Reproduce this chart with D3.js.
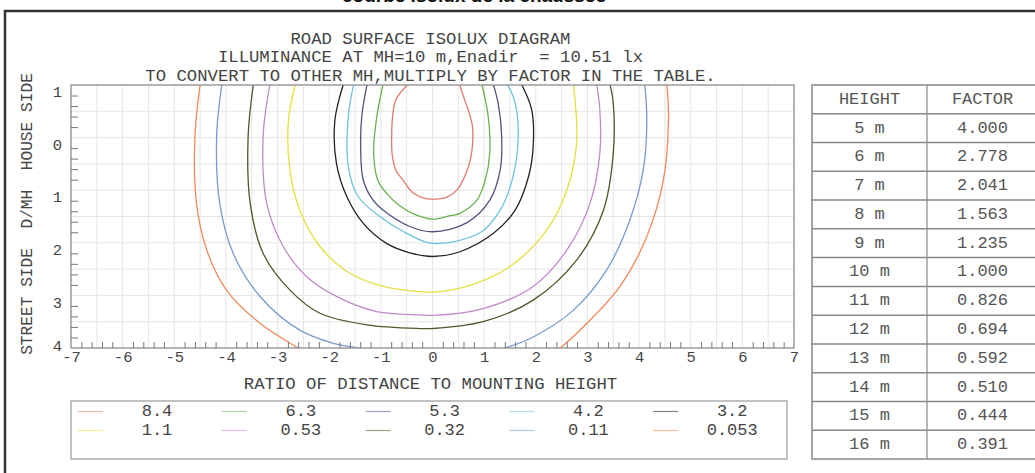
<!DOCTYPE html>
<html><head><meta charset="utf-8">
<script src="https://cdn.jsdelivr.net/npm/d3@7"></script>
<style>
html,body{margin:0;padding:0;background:#fff;}
svg{display:block;}
text{font-family:"Liberation Mono","DejaVu Sans Mono",monospace;fill:#444;white-space:pre;}
</style></head>
<body>
<svg id="chart" width="1035" height="473"></svg>
<script>
// ---------- DATA ----------
const titleLines = [
  "ROAD SURFACE ISOLUX DIAGRAM",
  "ILLUMINANCE AT MH=10 m,Enadir  = 10.51 lx",
  "TO CONVERT TO OTHER MH,MULTIPLY BY FACTOR IN THE TABLE."
];
const xTickValues = [-7,-6,-5,-4,-3,-2,-1,0,1,2,3,4,5,6,7];
const yTickValues = [-1,0,1,2,3,4];
const yTickLabels = ["1","0","1","2","3","4"];
const levels = ["8.4","6.3","5.3","4.2","3.2","1.1","0.53","0.32","0.11","0.053"];
const heights = ["5 m","6 m","7 m","8 m","9 m","10 m","11 m","12 m","13 m","14 m","15 m","16 m"];
const factors = ["4.000","2.778","2.041","1.563","1.235","1.000","0.826","0.694","0.592","0.510","0.444","0.391"];

// isolux contours, [ratio of distance, D/MH] (negative D/MH = house side)
const c8_4 = [[-0.49,-1],[-0.71,-0.72],[-0.77,-0.43],[-0.79,-0.05],[-0.78,0.33],[-0.71,0.62],[-0.57,0.81],[-0.38,1.05],[-0.20,1.14],[0,1.17],[0.28,1.13],[0.49,0.98],[0.66,0.65],[0.74,0.39],[0.78,0.05],[0.77,-0.24],[0.69,-0.53],[0.59,-0.81],[0.53,-1]];
const c6_3 = [[-0.96,-1],[-1.08,-0.39],[-1.14,0.29],[-1.06,0.81],[-0.88,1.07],[-0.63,1.30],[-0.32,1.47],[0,1.55],[0.32,1.49],[0.53,1.44],[0.86,1.19],[1.02,0.81],[1.11,0.29],[1.08,-0.39],[0.96,-1]];
const c5_3 = [[-1.27,-1],[-1.37,-0.40],[-1.39,0.25],[-1.34,0.81],[-1.15,1.19],[-0.89,1.43],[-0.44,1.69],[0,1.79],[0.66,1.62],[1.11,1.19],[1.31,0.62],[1.34,-0.02],[1.27,-0.66],[1.18,-1]];
const c4_2 = [[-1.53,-1],[-1.63,-0.40],[-1.63,0.55],[-1.44,1.12],[-1.02,1.50],[-0.50,1.82],[0,2.01],[0.92,1.81],[1.31,1.38],[1.56,0.74],[1.66,-0.02],[1.60,-0.66],[1.46,-1]];
const c3_2 = [[-1.73,-1],[-1.89,-0.33],[-1.86,0.49],[-1.66,1.12],[-1.34,1.63],[-0.89,2.01],[-0.44,2.19],[0,2.26],[0.53,2.17],[1.18,1.82],[1.60,1.38],[1.86,0.74],[1.95,0.17],[1.92,-0.53],[1.73,-1]];
const c1_1 = [[-2.66,-1],[-2.79,-0.33],[-2.76,0.62],[-2.57,1.38],[-2.18,2.07],[-1.60,2.58],[-0.95,2.83],[-0.24,2.93],[0,2.94],[0.66,2.83],[1.50,2.45],[2.21,1.76],[2.60,1.00],[2.79,0.11],[2.73,-1]];
const c0_53 = [[-3.15,-1],[-3.28,-0.02],[-3.21,1.25],[-2.89,2.07],[-2.44,2.64],[-1.86,3.02],[-1.08,3.31],[-0.24,3.37],[0,3.38],[0.98,3.25],[1.95,2.83],[2.60,2.14],[3.05,1.25],[3.24,0.30],[3.24,-0.53],[3.18,-1]];
const c0_32 = [[-3.47,-1],[-3.57,-0.02],[-3.53,1.25],[-3.28,2.20],[-2.76,2.90],[-2.18,3.34],[-1.27,3.56],[-0.24,3.63],[0,3.63],[0.98,3.50],[1.95,3.09],[2.79,2.33],[3.31,1.38],[3.50,0.30],[3.50,-0.66],[3.44,-1]];
const c0_11 = [[-4.08,-1],[-4.18,-0.02],[-4.12,1.25],[-3.86,2.20],[-3.34,3.02],[-2.57,3.66],[-1.92,3.91],[-1.44,4],[-1.0,4.08],[1.0,4.08],[1.40,4],[1.95,3.79],[2.73,3.28],[3.37,2.52],[3.82,1.57],[4.08,0.62],[4.15,-0.33],[4.11,-1]];
const c0_053 = [[-4.50,-1],[-4.60,-0.02],[-4.57,1.25],[-4.37,2.14],[-3.99,2.90],[-3.34,3.53],[-2.60,4],[-2.15,4.25],[2.05,4.25],[2.47,4],[2.99,3.53],[3.63,2.83],[4.15,1.88],[4.47,0.81],[4.57,-0.33],[4.54,-1]];
const contours = [c8_4,c6_3,c5_3,c4_2,c3_2,c1_1,c0_53,c0_32,c0_11,c0_053];
// line colours, one per level
const colors = ["#e07a6e","#6ab04c","#50547e","#6cc4dc","#222222","#e4df3c","#c08ac8","#4a5a28","#7a9ad0","#f08a5a"];

// ---------- DRAW ----------
const svg = d3.select("#chart");
const W = 1035, H = 473;
const plot = {left:71, right:794, top:85, bottom:348};
const x = d3.scaleLinear().domain([-7,7]).range([plot.left, plot.right]);
const y = d3.scaleLinear().domain([-1,4]).range([plot.top, plot.bottom]);

svg.append("rect").attr("width",W).attr("height",H).attr("fill","#fff");

// clipped top heading (only its lower edge shows in the frame)
svg.append("text").attr("x",474).attr("y",2).attr("text-anchor","middle")
  .style("font-family","'Liberation Sans',Arial,sans-serif").style("font-weight","bold")
  .style("font-size","19px").style("fill","#111").text("courbe isolux de la chaussée");

// outer frame
svg.append("rect").attr("x",5).attr("y",11).attr("width",1060).attr("height",500)
  .attr("fill","none").attr("stroke","#333").attr("stroke-width",2.5);

// title lines
svg.selectAll("text.title").data(titleLines).enter().append("text").attr("class","title")
  .attr("x",(plot.left+plot.right)/2 - 2).attr("y",(d,i)=>39 + i*18.5)
  .attr("text-anchor","middle").attr("dominant-baseline","middle")
  .style("font-size","17.3px").text(d=>d);

// grid
const gridX = d3.range(-7,7.01,0.5), gridY = d3.range(-1,4.01,0.5);
const grid = svg.append("g");
grid.selectAll("line.gx").data(gridX).enter().append("line")
  .attr("x1",d=>x(d)).attr("x2",d=>x(d)).attr("y1",plot.top).attr("y2",plot.bottom)
  .attr("stroke","#e6e6e6").attr("stroke-width",1);
grid.selectAll("line.gy").data(gridY).enter().append("line")
  .attr("y1",d=>y(d)).attr("y2",d=>y(d)).attr("x1",plot.left).attr("x2",plot.right)
  .attr("stroke","#e6e6e6").attr("stroke-width",1);

// contours
svg.append("clipPath").attr("id","pc").append("rect")
  .attr("x",plot.left).attr("y",plot.top).attr("width",plot.right-plot.left).attr("height",plot.bottom-plot.top);
const line = d3.line().x(d=>x(d[0])).y(d=>y(d[1])).curve(d3.curveCatmullRom.alpha(0.5));
svg.append("g").attr("clip-path","url(#pc)").selectAll("path").data(contours).enter().append("path")
  .attr("d",line).attr("fill","none").attr("stroke",(d,i)=>colors[i]).attr("stroke-width",1.3);

// plot frame
svg.append("rect").attr("x",plot.left).attr("y",plot.top)
  .attr("width",plot.right-plot.left).attr("height",plot.bottom-plot.top)
  .attr("fill","none").attr("stroke","#8a8a8a").attr("stroke-width",1.2);

// minor ticks
const minorX = d3.range(-7,7.001,0.2).filter(v=>Math.abs(v-Math.round(v))>0.01);
const minorY = d3.range(-1,4.001,0.2).filter(v=>Math.abs(v-Math.round(v))>0.01);
const gxm = svg.append("g").attr("transform",`translate(0,${plot.bottom})`)
  .call(d3.axisBottom(x).tickValues(minorX).tickSize(-6).tickFormat(""));
const gym = svg.append("g").attr("transform",`translate(${plot.left},0)`)
  .call(d3.axisLeft(y).tickValues(minorY).tickSize(-7).tickFormat(""));
[gxm,gym].forEach(g=>{g.select(".domain").remove(); g.selectAll("line").attr("stroke","#777");});

// tick labels
const gxl = svg.append("g").attr("transform",`translate(0,${plot.bottom})`)
  .call(d3.axisBottom(x).tickValues(xTickValues).tickSize(0).tickPadding(3).tickFormat(d=>String(d)));
gxl.select(".domain").remove();
gxl.selectAll("text").style("font-size","15.5px").style("font-family","'Liberation Mono',monospace").attr("fill","#444");
const gyl = svg.append("g").attr("transform",`translate(${plot.left},0)`)
  .call(d3.axisLeft(y).tickValues(yTickValues).tickSize(0).tickPadding(9).tickFormat((d,i)=>yTickLabels[i]));
gyl.select(".domain").remove();
gyl.selectAll("text").style("font-size","15.5px").style("font-family","'Liberation Mono',monospace").attr("fill","#444")
  .attr("dy",(d,i)=> i===yTickValues.length-1 ? "0.15em" : "0.75em");

// axis titles
svg.append("text").attr("x",(plot.left+plot.right)/2 - 2).attr("y",384)
  .attr("text-anchor","middle").attr("dominant-baseline","middle").style("font-size","17.3px")
  .text("RATIO OF DISTANCE TO MOUNTING HEIGHT");
svg.append("text").attr("transform","translate(28,214) rotate(-90)")
  .attr("text-anchor","middle").attr("dominant-baseline","middle").style("font-size","16.2px")
  .text("STREET SIDE  D/MH  HOUSE SIDE");

// legend
const lg = {x:71, y:401, w:716, h:58, colStep:143.8, rowY:[411.5,430.5]};
svg.append("rect").attr("x",lg.x).attr("y",lg.y).attr("width",lg.w).attr("height",lg.h)
  .attr("fill","none").attr("stroke","#9a9a9a").attr("stroke-width",1.2);
const items = svg.append("g").selectAll("g").data(levels).enter().append("g")
  .attr("transform",(d,i)=>`translate(${78 + (i%5)*lg.colStep},${lg.rowY[Math.floor(i/5)]})`);
items.append("line").attr("x1",0).attr("x2",25).attr("y1",0).attr("y2",0)
  .attr("stroke",(d,i)=>colors[i]).attr("stroke-width",1.2).attr("stroke-opacity",0.55);
items.append("text").attr("x",79).attr("y",0).attr("text-anchor","middle").attr("dominant-baseline","middle")
  .style("font-size","17px").text(d=>d);

// factor table
const tb = {x:812, xMid:927, xR:1040, top:85, bottom:459};
const rows = [["HEIGHT","FACTOR"]].concat(heights.map((h,i)=>[h,factors[i]]));
const rh = (tb.bottom-tb.top)/rows.length;
const tg = svg.append("g");
tg.append("rect").attr("x",tb.x).attr("y",tb.top).attr("width",tb.xR-tb.x).attr("height",tb.bottom-tb.top)
  .attr("fill","none").attr("stroke","#888").attr("stroke-width",1.5);
tg.append("line").attr("x1",tb.xMid).attr("x2",tb.xMid).attr("y1",tb.top).attr("y2",tb.bottom)
  .attr("stroke","#888").attr("stroke-width",1.2);
tg.selectAll("line.rl").data(d3.range(1,rows.length)).enter().append("line")
  .attr("x1",tb.x).attr("x2",tb.xR).attr("y1",d=>tb.top+d*rh).attr("y2",d=>tb.top+d*rh)
  .attr("stroke","#888").attr("stroke-width",1.5);
const rg = tg.selectAll("g.row").data(rows).enter().append("g")
  .attr("transform",(d,i)=>`translate(0,${tb.top + (i+0.5)*rh})`);
rg.append("text").attr("x",(tb.x+tb.xMid)/2).attr("text-anchor","middle").attr("dominant-baseline","middle")
  .style("font-size","17px").style("fill","#555").text(d=>d[0]);
rg.append("text").attr("x",(tb.xMid+tb.xR)/2 - 1).attr("text-anchor","middle").attr("dominant-baseline","middle")
  .style("font-size","17px").style("fill","#555").text(d=>d[1]);
</script>
</body></html>
